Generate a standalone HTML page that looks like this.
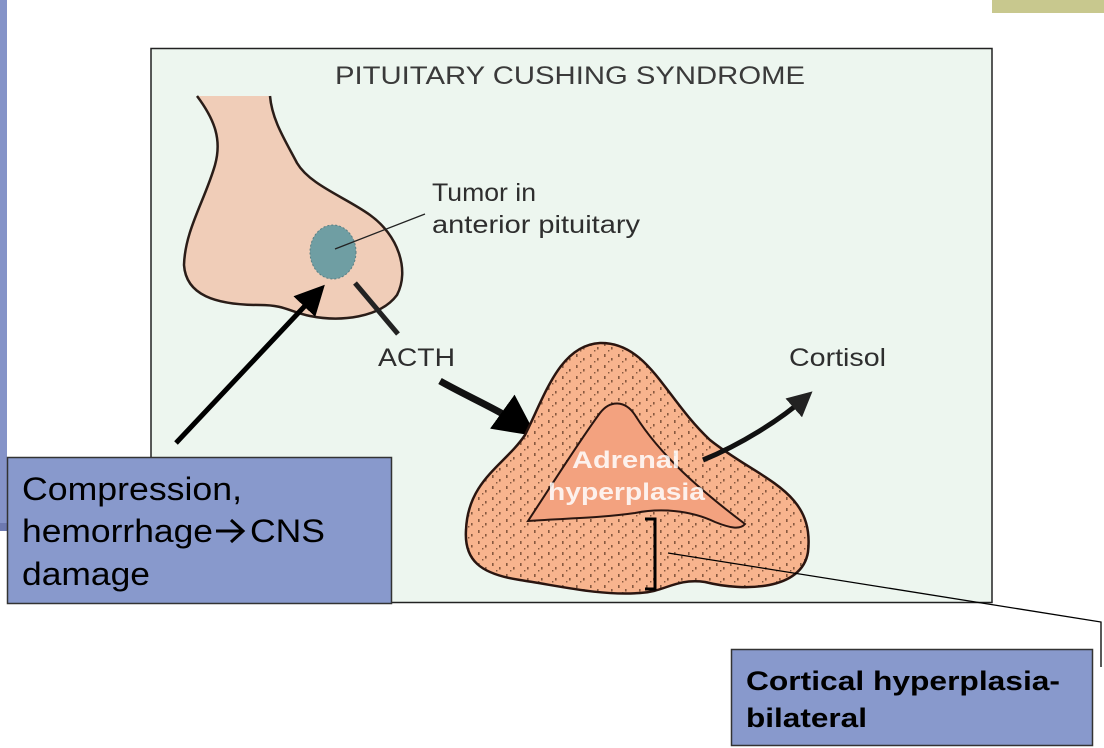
<!DOCTYPE html>
<html><head><meta charset="utf-8"><style>
html,body{margin:0;padding:0;background:#fff;width:1104px;height:748px;overflow:hidden}
svg{display:block}
</style></head><body>
<svg width="1104" height="748" viewBox="0 0 1104 748" xmlns="http://www.w3.org/2000/svg" font-family="Liberation Sans, sans-serif">
<defs>
<pattern id="dots" width="14" height="11" patternUnits="userSpaceOnUse">
<rect x="2" y="2" width="1.6" height="3" fill="#3a1a0a"/>
<rect x="9" y="6" width="1.6" height="2.5" fill="#3a1a0a"/>
<rect x="6" y="9" width="1.4" height="1.5" fill="#3a1a0a"/>
</pattern>
<marker id="ah" markerWidth="6" markerHeight="6" refX="4" refY="3" orient="auto" markerUnits="strokeWidth"><path d="M0,0 L6,3 L0,6 Z" fill="#000"/></marker>
<marker id="ah2" markerWidth="5" markerHeight="5" refX="3" refY="2.5" orient="auto" markerUnits="strokeWidth"><path d="M0,0 L5,2.5 L0,5 Z" fill="#222"/></marker>
</defs>
<rect x="0" y="0" width="7" height="525" fill="#8593c8"/>
<rect x="0" y="523" width="30" height="8" fill="#6d79b0"/>
<rect x="992" y="0" width="112" height="13" fill="#c8c88e"/>
<rect x="151" y="48.5" width="841" height="554" fill="#edf6ef" stroke="#222" stroke-width="1.5"/>
<text x="335" y="84" font-size="25" fill="#3a3a3a" textLength="470" lengthAdjust="spacingAndGlyphs">PITUITARY CUSHING SYNDROME</text>
<!-- pituitary -->
<path d="M197,96 C215,120 222,140 215,165 C205,200 185,230 184,265 C186,295 215,305 260,305 C285,305 290,312 310,316 C340,322 380,318 397,295 C410,270 398,235 370,215 C345,197 310,185 297,163 C285,140 272,120 270,96 Z" fill="#f0cdb8"/>
<path d="M197,96 C215,120 222,140 215,165 C205,200 185,230 184,265 C186,295 215,305 260,305 C285,305 290,312 310,316 C340,322 380,318 397,295 C410,270 398,235 370,215 C345,197 310,185 297,163 C285,140 272,120 270,96" fill="none" stroke="#2a1d18" stroke-width="2.5"/>
<ellipse cx="333" cy="252" rx="23" ry="27" fill="#6f9ea3" stroke="#5a7f84" stroke-dasharray="2 2"/>
<line x1="335" y1="249" x2="425" y2="214" stroke="#222" stroke-width="1.3"/>
<text x="432" y="201" font-size="25" fill="#2e2e2e" textLength="104" lengthAdjust="spacingAndGlyphs">Tumor in</text>
<text x="432" y="233" font-size="25" fill="#2e2e2e" textLength="208" lengthAdjust="spacingAndGlyphs">anterior pituitary</text>
<line x1="355" y1="283" x2="398" y2="334" stroke="#222" stroke-width="5"/>
<text x="378" y="366" font-size="25" fill="#2e2e2e" textLength="77" lengthAdjust="spacingAndGlyphs">ACTH</text>
<path d="M440,381 C470,398 500,410 525,428" stroke="#111" stroke-width="7" fill="none" marker-end="url(#ah)"/>
<!-- adrenal -->
<path d="M466,530 C468,480 505,465 525,435 C545,395 560,345 600,343 C648,342 665,398 710,440 C760,480 815,490 808,552 C802,590 745,592 705,582 C675,578 665,592 640,593 C600,596 560,586 520,580 C480,574 464,560 466,530 Z" fill="#f8b48e"/>
<path d="M466,530 C468,480 505,465 525,435 C545,395 560,345 600,343 C648,342 665,398 710,440 C760,480 815,490 808,552 C802,590 745,592 705,582 C675,578 665,592 640,593 C600,596 560,586 520,580 C480,574 464,560 466,530 Z" fill="url(#dots)" opacity="0.6"/>
<path d="M466,530 C468,480 505,465 525,435 C545,395 560,345 600,343 C648,342 665,398 710,440 C760,480 815,490 808,552 C802,590 745,592 705,582 C675,578 665,592 640,593 C600,596 560,586 520,580 C480,574 464,560 466,530 Z" fill="none" stroke="#2a1510" stroke-width="2.5"/>
<path d="M528,521 C555,480 580,440 600,413 C610,400 625,400 635,415 C660,455 700,490 745,524 C740,530 730,528 715,522 C690,510 660,508 635,513 C600,518 570,518 528,521 Z" fill="#f3a27f" stroke="#2a1510" stroke-width="2"/>
<text x="572" y="468" font-size="24" font-weight="bold" fill="#fff" opacity="0.85" textLength="108" lengthAdjust="spacingAndGlyphs">Adrenal</text>
<text x="548" y="500" font-size="24" font-weight="bold" fill="#fff" opacity="0.85" textLength="157" lengthAdjust="spacingAndGlyphs">hyperplasia</text>
<path d="M645,519 L655,519 L655,589 L645,589" fill="none" stroke="#000" stroke-width="3"/>
<path d="M703,460 C740,445 780,420 805,398" stroke="#111" stroke-width="5" fill="none" marker-end="url(#ah2)"/>
<text x="789" y="366" font-size="25" fill="#2e2e2e" textLength="97" lengthAdjust="spacingAndGlyphs">Cortisol</text>
<!-- leader -->
<polyline points="668,553 1101,622 1101,667" fill="none" stroke="#000" stroke-width="1.3"/>
<!-- black arrow -->
<line x1="176" y1="443" x2="318" y2="292" stroke="#000" stroke-width="5" marker-end="url(#ah)"/>
<!-- boxes -->
<rect x="7.5" y="457.5" width="384" height="146" fill="#8899cc" stroke="#333" stroke-width="1.5"/>
<text x="22" y="500" font-size="32" fill="#000" textLength="220" lengthAdjust="spacingAndGlyphs">Compression,</text>
<text x="22" y="542" font-size="32" fill="#000" textLength="191" lengthAdjust="spacingAndGlyphs">hemorrhage</text>
<path d="M216,531 H242 M231,520 L243,531 L231,542" fill="none" stroke="#000" stroke-width="3"/>
<text x="250" y="542" font-size="32" fill="#000" textLength="75" lengthAdjust="spacingAndGlyphs">CNS</text>
<text x="22" y="585" font-size="32" fill="#000" textLength="128" lengthAdjust="spacingAndGlyphs">damage</text>
<rect x="731.5" y="649.5" width="361" height="96" fill="#8899cc" stroke="#333" stroke-width="1.5"/>
<text x="746" y="690" font-size="27" font-weight="bold" fill="#000" textLength="314" lengthAdjust="spacingAndGlyphs">Cortical hyperplasia-</text>
<text x="746" y="727" font-size="27" font-weight="bold" fill="#000" textLength="121" lengthAdjust="spacingAndGlyphs">bilateral</text>
</svg>
</body></html>
